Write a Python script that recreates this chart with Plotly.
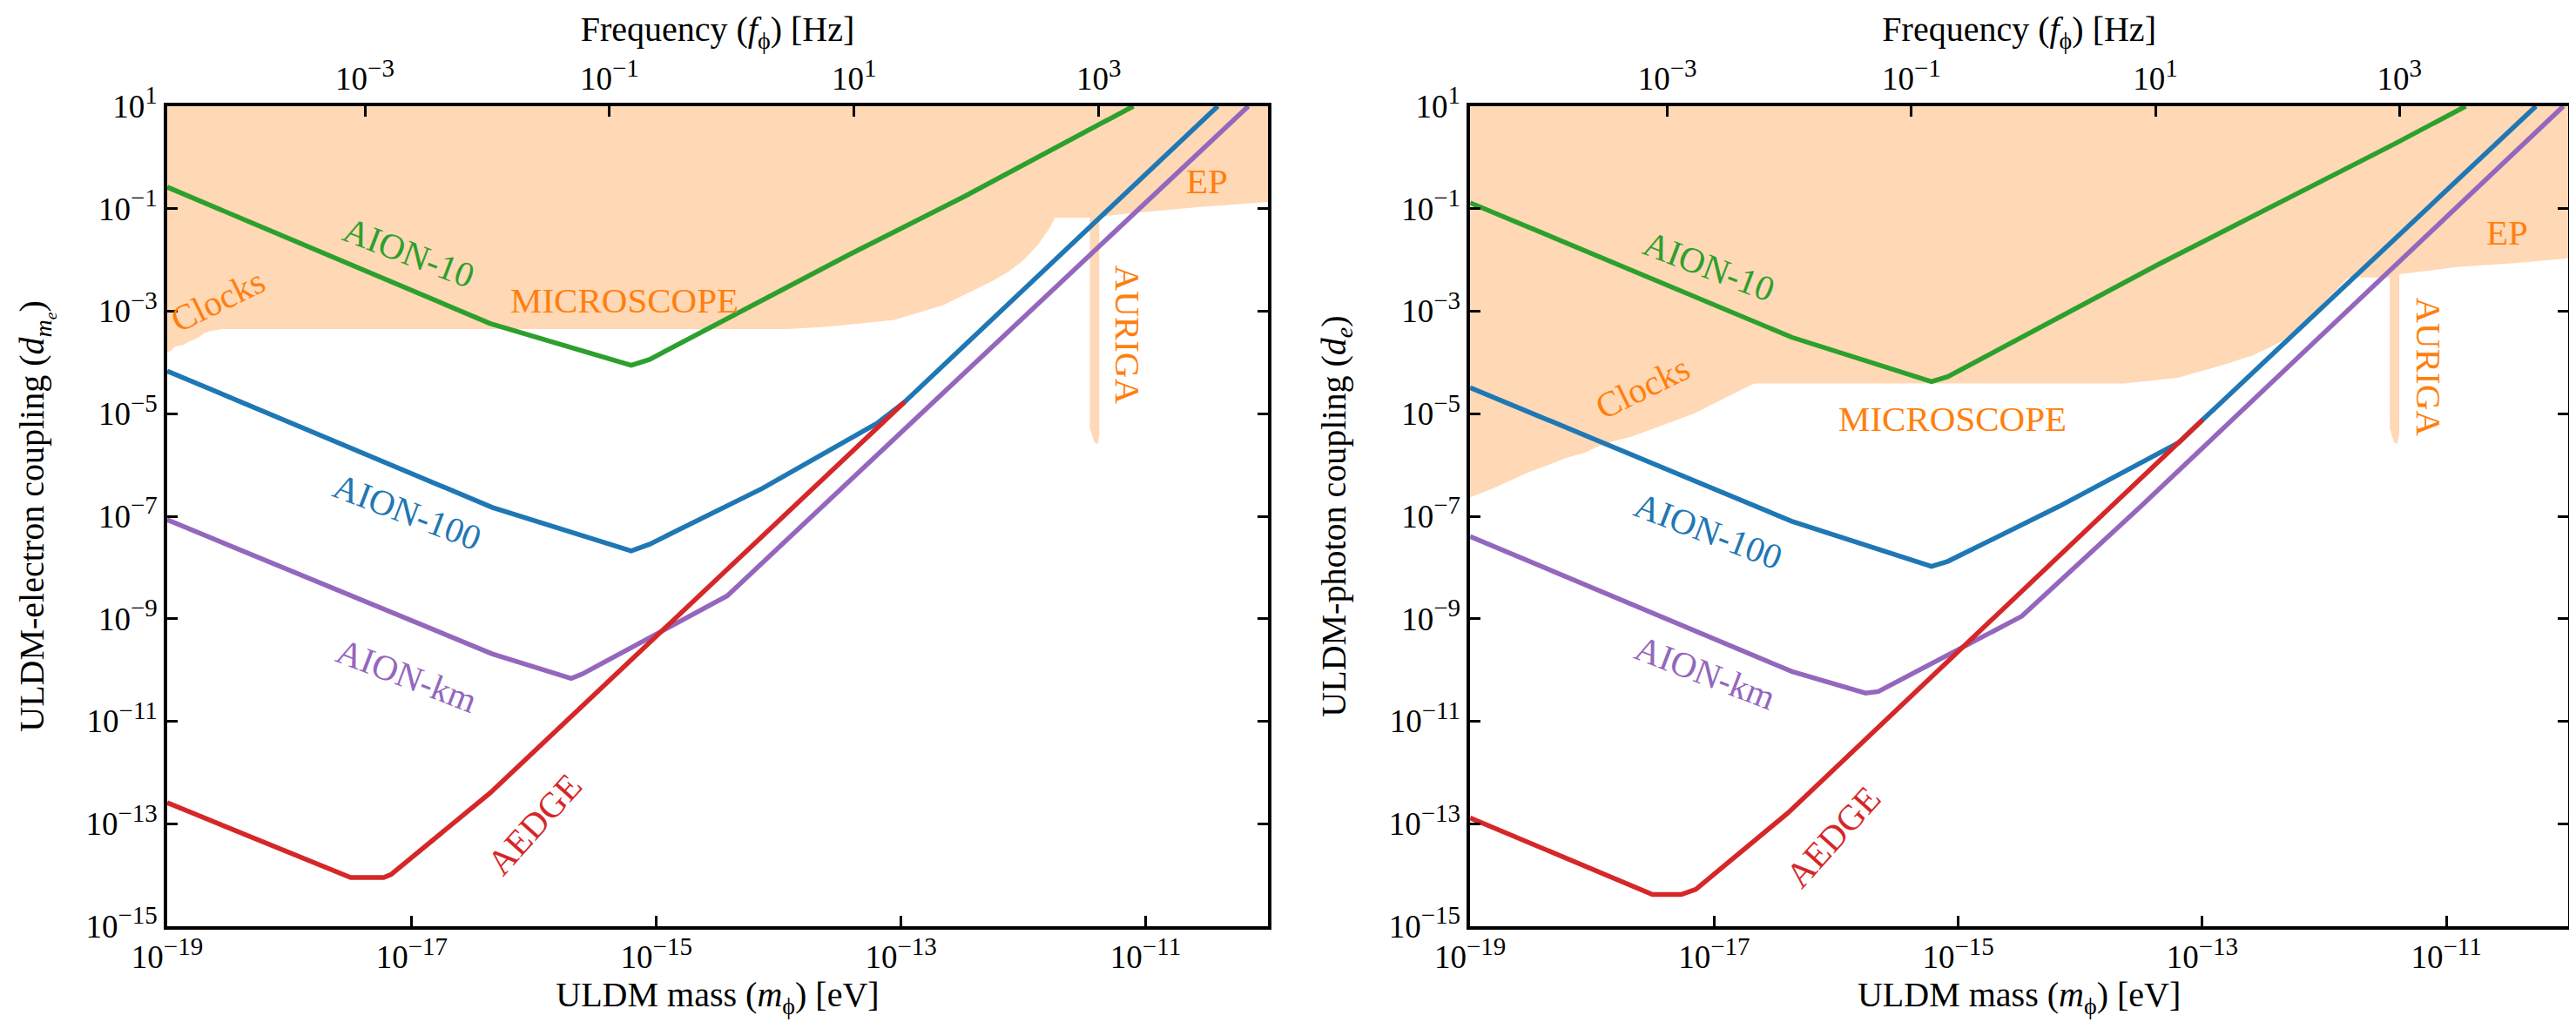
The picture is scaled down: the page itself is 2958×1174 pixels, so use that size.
import numpy as np
import plotly.graph_objects as go

# conversion of ULDM mass (eV) to oscillation frequency (Hz): f = m / h
EV_TO_HZ = 2.418e14

# mass range shown on both panels (log10 eV)
M_MIN, M_MAX = -19, -10
D_MIN, D_MAX = -15, 1

# tick exponents
mass_ticks = [-19, -17, -15, -13, -11]
freq_ticks = [-3, -1, 1, 3]
coupling_ticks = [1, -1, -3, -5, -7, -9, -11, -13, -15]

# ---------------- left panel: ULDM-electron coupling d_me (log10 values) ----------------
l_aion10_m = [-19.0, -16.36, -15.206, -15.055, -13.41, -12.476, -11.10]
l_aion10_d = [-0.578, -3.24, -4.054, -3.94, -1.88, -0.754, 1.0]

l_aion100_m = [-19.0, -16.343, -15.206, -15.055, -14.135, -13.195, -12.97, -10.41]
l_aion100_d = [-4.167, -6.827, -7.676, -7.545, -6.459, -5.185, -4.77, 1.0]

l_aionkm_m = [-19.0, -16.343, -15.697, -15.607, -14.421, -10.16]
l_aionkm_d = [-7.07, -9.685, -10.166, -10.08, -8.553, 1.0]

l_aedge_m = [-19.0, -17.50, -17.23, -17.17, -16.36, -14.952, -12.97]
l_aedge_d = [-12.59, -14.05, -14.05, -13.99, -12.40, -9.23, -4.77]

# excluded region (Clocks + MICROSCOPE + EP + AURIGA), lower edge then closed along the top
l_excl_m = [-19.0, -18.974, -18.937, -18.873, -18.809, -18.746, -18.698, -18.650, -18.555,
            -13.93, -13.594, -13.055, -12.654, -12.476, -12.383, -12.241, -12.120, -11.999,
            -11.885, -11.785, -11.742, -11.456, -11.456, -11.420, -11.389, -11.379, -11.379,
            -11.051, -10.574, -10.0, -10.0, -19.0]
l_excl_d = [-3.80, -3.78, -3.69, -3.66, -3.58, -3.52, -3.43, -3.39, -3.35,
            -3.35, -3.30, -3.17, -2.88, -2.667, -2.565, -2.396, -2.226, -2.005,
            -1.716, -1.377, -1.173, -1.173, -5.28, -5.55, -5.59, -5.40, -1.156,
            -1.071, -0.970, -0.868, 1.0, 1.0]

# ---------------- right panel: ULDM-photon coupling d_e (log10 values) ----------------
r_aion10_m = [-19.0, -16.363, -15.219, -15.085, -13.37, -12.581, -11.418, -10.84]
r_aion10_d = [-0.884, -3.51, -4.374, -4.277, -2.10, -1.15, 0.272, 1.0]

r_aion100_m = [-19.0, -16.363, -15.219, -15.085, -14.175, -13.19, -12.997, -10.265]
r_aion100_d = [-4.49, -7.10, -7.98, -7.88, -6.81, -5.56, -5.12, 1.0]

r_aionkm_m = [-19.0, -16.363, -15.76, -15.655, -14.478, -13.504, -10.04]
r_aionkm_d = [-7.395, -10.03, -10.45, -10.42, -8.95, -6.81, 1.0]

r_aedge_m = [-19.0, -17.506, -17.27, -17.15, -16.396, -14.444, -12.997]
r_aedge_d = [-12.885, -14.38, -14.38, -14.28, -12.79, -8.40, -5.12]

r_excl_m = [-19.0, -18.99, -18.816, -18.689, -18.53, -18.37, -18.21, -18.05, -17.955, -17.83,
            -17.67, -17.51, -17.35, -17.16, -16.97, -16.78, -16.68, -16.66,
            -13.64, -13.20, -12.832, -12.581, -12.343, -12.15, -12.0, -11.85, -11.80,
            -11.463, -11.463, -11.43, -11.40, -11.385, -11.385,
            -10.917, -10.44, -10.0, -10.0, -19.0]
r_excl_d = [-6.64, -6.62, -6.46, -6.32, -6.15, -6.01, -5.86, -5.75, -5.64, -5.54,
            -5.44, -5.30, -5.16, -4.99, -4.76, -4.53, -4.42, -4.41,
            -4.41, -4.30, -4.05, -3.856, -3.58, -3.18, -2.82, -2.45, -2.34,
            -2.34, -5.28, -5.55, -5.59, -5.40, -2.28,
            -2.14, -2.06, -1.97, 1.0, 1.0]

GREEN, BLUE, RED, PURPLE, ORANGE = "#2ca02c", "#1f77b4", "#d62728", "#9467bd", "#ff7f0e"
FILL = "rgba(255,127,14,0.3)"
FONT = "Liberation Serif"


def p10(v):
    return np.power(10.0, np.asarray(v, dtype=float))


def pow_text(exps):
    return ["10<sup><span style='font-size:29px'>%s</span></sup>"
            % (str(e).replace("-", "\u2212")) for e in exps]


fig = go.Figure()

panels = [
    ("x", "y", "x2", l_excl_m, l_excl_d,
     [(l_aion10_m, l_aion10_d, GREEN), (l_aion100_m, l_aion100_d, BLUE),
      (l_aionkm_m, l_aionkm_d, PURPLE), (l_aedge_m, l_aedge_d, RED)]),
    ("x3", "y2", "x4", r_excl_m, r_excl_d,
     [(r_aion10_m, r_aion10_d, GREEN), (r_aion100_m, r_aion100_d, BLUE),
      (r_aionkm_m, r_aionkm_d, PURPLE), (r_aedge_m, r_aedge_d, RED)]),
]

for xa, ya, xtop, em, ed, curves in panels:
    fig.add_trace(go.Scatter(x=p10(em), y=p10(ed), xaxis=xa, yaxis=ya, mode="lines",
                             fill="toself", fillcolor=FILL, line=dict(width=0),
                             hoverinfo="skip", showlegend=False))
    for m, d, c in curves:
        fig.add_trace(go.Scatter(x=p10(m), y=p10(d), xaxis=xa, yaxis=ya, mode="lines",
                                 line=dict(color=c, width=5.5), showlegend=False))
    # frequency axis on top
    fig.add_trace(go.Scatter(x=p10([M_MIN, M_MAX]) * EV_TO_HZ, y=p10([D_MIN, D_MIN]),
                             xaxis=xtop, yaxis=ya, mode="markers", marker=dict(opacity=0),
                             hoverinfo="skip", showlegend=False))

# labels: (panel axes, text, colour, angle, log10 m, log10 d)
labels = [
    ("x", "y", "AION-10", GREEN, 21, -17.027, -1.852),
    ("x", "y", "MICROSCOPE", ORANGE, 0, -15.261, -2.786),
    ("x", "y", "Clocks", ORANGE, -26, -18.587, -2.786),
    ("x", "y", "EP", ORANGE, 0, -10.496, -0.460),
    ("x", "y", "AURIGA", ORANGE, 90, -11.144, -3.465),
    ("x", "y", "AION-100", BLUE, 21, -17.034, -6.912),
    ("x", "y", "AION-km", PURPLE, 21, -17.041, -10.104),
    ("x", "y", "AEDGE", RED, -48, -16.001, -13.007),
    ("x3", "y2", "AION-10", GREEN, 21, -17.039, -2.124),
    ("x3", "y2", "Clocks", ORANGE, -26, -17.588, -4.484),
    ("x3", "y2", "MICROSCOPE", ORANGE, 0, -15.048, -5.095),
    ("x3", "y2", "EP", ORANGE, 0, -10.498, -1.462),
    ("x3", "y2", "AURIGA", ORANGE, 90, -11.140, -4.093),
    ("x3", "y2", "AION-100", BLUE, 21, -17.046, -7.285),
    ("x3", "y2", "AION-km", PURPLE, 21, -17.067, -10.053),
    ("x3", "y2", "AEDGE", RED, -48, -16.026, -13.245),
]
for xa, ya, txt, col, ang, lm, ld in labels:
    fig.add_annotation(xref=xa, yref=ya, x=lm, y=ld, text=txt, showarrow=False,
                       textangle=ang, font=dict(family=FONT, size=41, color=col))

axis_style = dict(type="log", showgrid=False, zeroline=False, showline=True,
                  linewidth=3.5, linecolor="black", ticks="inside", ticklen=12,
                  tickwidth=3, tickcolor="black",
                  tickfont=dict(family=FONT, size=37, color="black"), automargin=False)

y_dom = [0.1005, 0.9029]
left_dom = [0.0622, 0.4895]
right_dom = [0.5680, 0.9943]
f_range = [M_MIN + np.log10(EV_TO_HZ), M_MAX + np.log10(EV_TO_HZ)]
mass_title = "ULDM mass (<i>m</i><sub>ϕ</sub>) [eV]"
freq_title = "Frequency (<i>f</i><sub>ϕ</sub>) [Hz]"
title_font = dict(family=FONT, size=40, color="black")

mass_axis = dict(axis_style, range=[M_MIN, M_MAX], tickvals=p10(mass_ticks),
                 ticktext=pow_text(mass_ticks), mirror=True,
                 title=dict(text=mass_title, font=title_font, standoff=2))
freq_axis = dict(axis_style, side="top", range=f_range, tickvals=p10(freq_ticks),
                 ticktext=pow_text(freq_ticks),
                 title=dict(text=freq_title, font=title_font, standoff=0))
coup_axis = dict(axis_style, range=[D_MIN, D_MAX], tickvals=p10(coupling_ticks),
                 ticktext=pow_text(coupling_ticks), mirror="ticks")

fig.update_layout(
    width=2958, height=1174, margin=dict(l=0, r=0, t=0, b=0),
    plot_bgcolor="white", paper_bgcolor="white", showlegend=False,
    font=dict(family=FONT, size=37, color="black"),
    xaxis=dict(mass_axis, domain=left_dom, anchor="y"),
    xaxis2=dict(freq_axis, overlaying="x", anchor="y"),
    yaxis=dict(coup_axis, domain=y_dom, anchor="x",
               title=dict(text="ULDM-electron coupling (<i>d</i><sub><i>m<sub>e</sub></i></sub>)",
                          font=title_font, standoff=36)),
    xaxis3=dict(mass_axis, domain=right_dom, anchor="y2"),
    xaxis4=dict(freq_axis, overlaying="x3", anchor="y2"),
    yaxis2=dict(coup_axis, domain=y_dom, anchor="x3",
                title=dict(text="ULDM-photon coupling (<i>d</i><sub><i>e</i></sub>)",
                           font=title_font, standoff=38)),
)

fig.write_html("out.html")
